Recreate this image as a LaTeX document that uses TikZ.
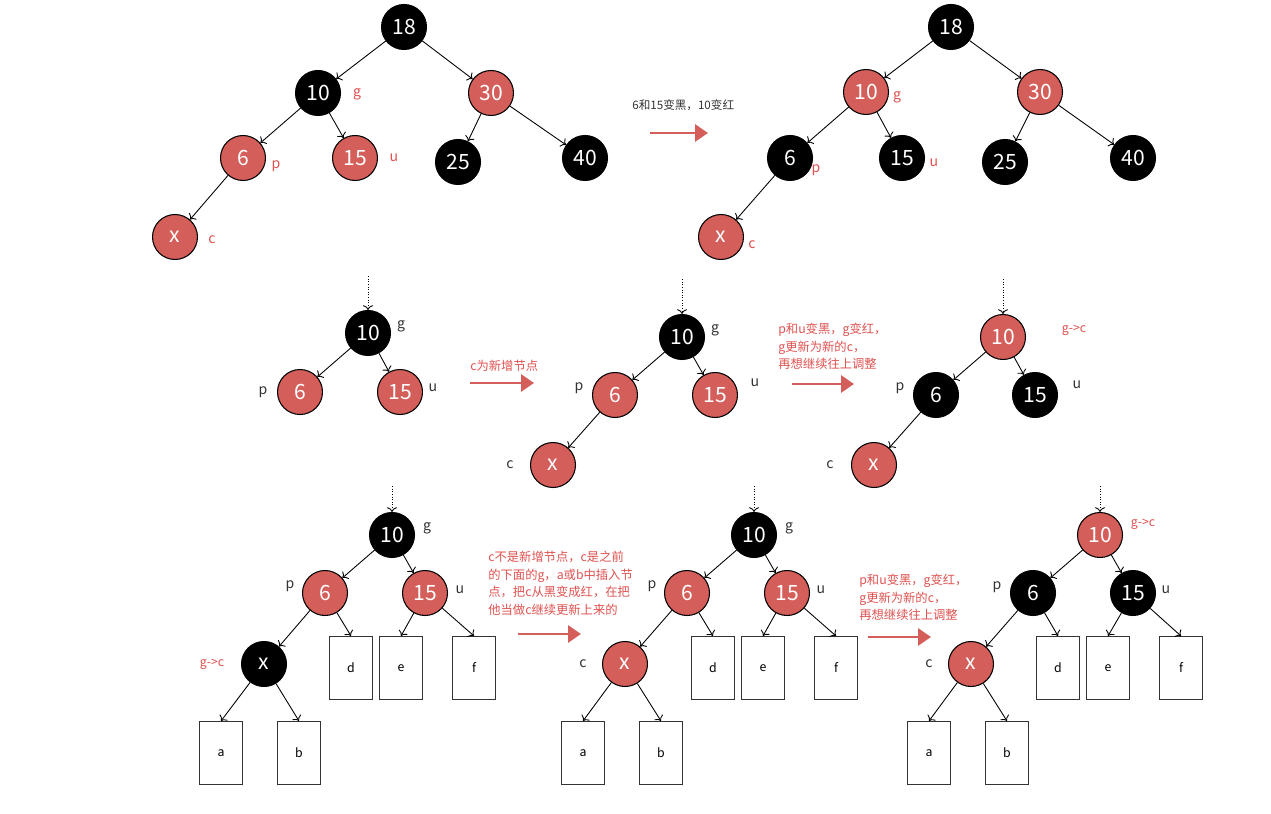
\documentclass[tikz,border=0pt]{standalone}
\usepackage{fontspec}
\setmainfont{Noto Sans CJK SC}
\usetikzlibrary{arrows.meta}
\definecolor{rbred}{RGB}{212,94,90}
\definecolor{txtred}{RGB}{222,82,80}
\definecolor{txtgray}{RGB}{51,51,51}
\tikzset{
    rbnode/.style={circle,draw=black,line width=0.6pt,minimum size=0.9cm,inner sep=0pt,
        text=white,font=\fontsize{12}{12}\selectfont},
    rednode/.style={rbnode,fill=rbred},
    blknode/.style={rbnode,fill=black},
    leaf/.style={draw=black!80,line width=0.6pt,minimum width=0.86cm,minimum height=1.26cm,
        inner sep=0pt,font=\fontsize{7}{7}\selectfont},
    tag/.style={text=txtgray,font=\fontsize{8}{8}\selectfont},
    redtag/.style={tag,text=txtred},
    remark/.style={text=txtred,font=\fontsize{7}{10}\selectfont,align=left,inner sep=0pt},
    link/.style={->,line width=0.5pt},
    pointer/.style={->,densely dotted,line width=0.5pt},
    stepline/.style={-{Triangle[length=0.26cm,width=0.34cm]},line width=1.7pt,draw=rbred},
}
\begin{document}
\begin{tikzpicture}[x=0.02cm,y=-0.02cm]
    \useasboundingbox (0,0) rectangle (1271,814);

    % tree 1: before recolouring
    \node[blknode] (a18) at (404,27) {18};
    \node[blknode] (a10) at (318,93) {10};
    \node[rednode] (a30) at (491,93) {30};
    \node[rednode] (a6) at (243,158) {6};
    \node[rednode] (a15) at (355,158) {15};
    \node[blknode] (a25) at (458,162) {25};
    \node[blknode] (a40) at (585,158) {40};
    \node[rednode] (ax) at (175,237) {x};
    \node[redtag] (ag) at (357,94) {g};
    \node[redtag] (ap) at (276,166) {p};
    \node[redtag] (au) at (394,158) {u};
    \node[redtag] (ac) at (212,240) {c};
    \foreach \u/\v in {a18/a10,a18/a30,a10/a6,a10/a15,a30/a25,a30/a40,a6/ax}
        \draw[link] (\u) -- (\v);

    % step 1
    \node[tag,anchor=west,inner sep=0pt,font=\fontsize{6.6}{7}\selectfont] (t1) at (632,105) {6和15变黑，10变红};
    \coordinate (s1) at (650,133);
    \coordinate (e1) at (708,133);
    \draw[stepline] (s1) -- (e1);

    % tree 2: after recolouring
    \node[blknode] (b18) at (951,27) {18};
    \node[rednode] (b10) at (866,92) {10};
    \node[rednode] (b30) at (1040,92) {30};
    \node[blknode] (b6) at (790,158) {6};
    \node[blknode] (b15) at (902,158) {15};
    \node[blknode] (b25) at (1005,162) {25};
    \node[blknode] (b40) at (1133,158) {40};
    \node[rednode] (bx) at (721,237) {x};
    \node[redtag] (bg) at (897,97) {g};
    \node[redtag] (bp) at (816,170) {p};
    \node[redtag] (bu) at (934,163) {u};
    \node[redtag] (bc) at (752,245) {c};
    \foreach \u/\v in {b18/b10,b18/b30,b10/b6,b10/b15,b30/b25,b30/b40,b6/bx}
        \draw[link] (\u) -- (\v);

    % tree 3
    \coordinate (ctop) at (368,276);
    \node[blknode] (c10) at (368,333) {10};
    \node[rednode] (c6) at (300,392) {6};
    \node[rednode] (c15) at (400,392) {15};
    \node[tag] (cg) at (401,326) {g};
    \node[tag] (cp) at (263,392) {p};
    \node[tag] (cu) at (433,388) {u};
    \draw[pointer] (ctop) -- (c10);
    \foreach \u/\v in {c10/c6,c10/c15}
        \draw[link] (\u) -- (\v);

    % step 2
    \node[remark,anchor=west] (t2) at (470,366) {c为新增节点};
    \coordinate (s2) at (470,383);
    \coordinate (e2) at (534,383);
    \draw[stepline] (s2) -- (e2);

    % tree 4
    \coordinate (dtop) at (682,279);
    \node[blknode] (d10) at (682,337) {10};
    \node[rednode] (d6) at (615,395) {6};
    \node[rednode] (d15) at (715,395) {15};
    \node[rednode] (dx) at (553,465) {x};
    \node[tag] (dg) at (715,330) {g};
    \node[tag] (dp) at (579,388) {p};
    \node[tag] (du) at (755,383) {u};
    \node[tag] (dc) at (510,465) {c};
    \draw[pointer] (dtop) -- (d10);
    \foreach \u/\v in {d10/d6,d10/d15,d6/dx}
        \draw[link] (\u) -- (\v);

    % step 3
    \node[remark,anchor=north west] (t3) at (778,323) {p和u变黑，g变红，\\g更新为新的c，\\再想继续往上调整};
    \coordinate (s3) at (792,384);
    \coordinate (e3) at (854,384);
    \draw[stepline] (s3) -- (e3);

    % tree 5
    \coordinate (etop) at (1003,279);
    \node[rednode] (e10) at (1003,337) {10};
    \node[blknode] (e6) at (936,395) {6};
    \node[blknode] (e15) at (1035,395) {15};
    \node[rednode] (ex) at (874,465) {x};
    \node[redtag,font=\fontsize{7}{7}\selectfont] (eg) at (1074,330) {g->c};
    \node[tag] (ep) at (900,388) {p};
    \node[tag] (eu) at (1077,385) {u};
    \node[tag] (ec) at (830,465) {c};
    \draw[pointer] (etop) -- (e10);
    \foreach \u/\v in {e10/e6,e10/e15,e6/ex}
        \draw[link] (\u) -- (\v);

    % tree 6
    \coordinate (ftop) at (392,486);
    \node[blknode] (f10) at (392,535) {10};
    \node[rednode] (f6) at (325,593) {6};
    \node[rednode] (f15) at (425,593) {15};
    \node[blknode] (fx) at (264,664) {x};
    \node[leaf] (fd) at (351,668) {d};
    \node[leaf] (fe) at (401,668) {e};
    \node[leaf] (ff) at (474,668) {f};
    \node[leaf] (fa) at (221,753) {a};
    \node[leaf] (fb) at (299,753) {b};
    \node[tag] (fg) at (427,528) {g};
    \node[tag] (fp) at (290,586) {p};
    \node[tag] (fu) at (460,590) {u};
    \node[redtag,font=\fontsize{7}{7}\selectfont] (fc) at (212,664) {g->c};
    \draw[pointer] (ftop) -- (f10);
    \foreach \u/\v in {f10/f6,f10/f15,f6/fx}
        \draw[link] (\u) -- (\v);
    \foreach \u/\v in {f6/fd,f15/fe,f15/ff,fx/fa,fx/fb}
        \draw[link] (\u) -- (\v.north);

    % step 4
    \node[remark,anchor=north west] (t4) at (488,551) {c不是新增节点，c是之前\\的下面的g，a或b中插入节\\点，把c从黑变成红，在把\\他当做c继续更新上来的};
    \coordinate (s4) at (518,634);
    \coordinate (e4) at (581,634);
    \draw[stepline] (s4) -- (e4);

    % tree 7
    \coordinate (gtop) at (754,486);
    \node[blknode] (g10) at (754,535) {10};
    \node[rednode] (g6) at (687,593) {6};
    \node[rednode] (g15) at (787,593) {15};
    \node[rednode] (gx) at (625,664) {x};
    \node[leaf] (gd) at (713,668) {d};
    \node[leaf] (ge) at (763,668) {e};
    \node[leaf] (gf) at (836,668) {f};
    \node[leaf] (ga) at (583,753) {a};
    \node[leaf] (gb) at (661,753) {b};
    \node[tag] (gg) at (789,528) {g};
    \node[tag] (gp) at (652,586) {p};
    \node[tag] (gu) at (821,590) {u};
    \node[tag] (gc) at (583,664) {c};
    \draw[pointer] (gtop) -- (g10);
    \foreach \u/\v in {g10/g6,g10/g15,g6/gx}
        \draw[link] (\u) -- (\v);
    \foreach \u/\v in {g6/gd,g15/ge,g15/gf,gx/ga,gx/gb}
        \draw[link] (\u) -- (\v.north);

    % step 5
    \node[remark,anchor=north west] (t5) at (859,574) {p和u变黑，g变红，\\g更新为新的c，\\再想继续往上调整};
    \coordinate (s5) at (868,637);
    \coordinate (e5) at (931,637);
    \draw[stepline] (s5) -- (e5);

    % tree 8
    \coordinate (htop) at (1100,486);
    \node[rednode] (h10) at (1100,535) {10};
    \node[blknode] (h6) at (1033,593) {6};
    \node[blknode] (h15) at (1133,593) {15};
    \node[rednode] (hx) at (971,664) {x};
    \node[leaf] (hd) at (1058,668) {d};
    \node[leaf] (he) at (1108,668) {e};
    \node[leaf] (hf) at (1181,668) {f};
    \node[leaf] (ha) at (929,753) {a};
    \node[leaf] (hb) at (1007,753) {b};
    \node[redtag,font=\fontsize{7}{7}\selectfont] (hg) at (1143,524) {g->c};
    \node[tag] (hp) at (997,587) {p};
    \node[tag] (hu) at (1166,590) {u};
    \node[tag] (hc) at (929,664) {c};
    \draw[pointer] (htop) -- (h10);
    \foreach \u/\v in {h10/h6,h10/h15,h6/hx}
        \draw[link] (\u) -- (\v);
    \foreach \u/\v in {h6/hd,h15/he,h15/hf,hx/ha,hx/hb}
        \draw[link] (\u) -- (\v.north);
\end{tikzpicture}
\end{document}
